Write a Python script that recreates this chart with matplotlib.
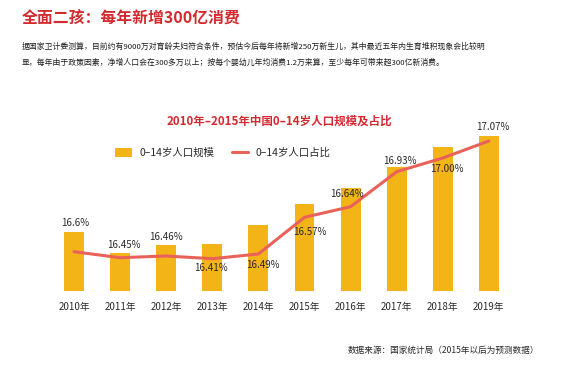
import numpy as np
import matplotlib.pyplot as plt

plt.rcParams['font.family'] = ['Noto Sans CJK SC', 'DejaVu Sans']

years = ['2010年', '2011年', '2012年', '2013年', '2014年',
         '2015年', '2016年', '2017年', '2018年', '2019年']
# bar heights and line levels (no scale given in the chart)
scale = [59, 38, 46, 47, 66, 87, 103, 124, 144, 155]
share_level = [39.3, 33.3, 35, 32.3, 37, 73.7, 84.3, 119.3, 133, 150]
share_labels = ['16.6%', '16.45%', '16.46%', '16.41%', '16.49%',
                '16.57%', '16.64%', '16.93%', '17.00%', '17.07%']

# label placement relative to the line point (pixels)
lab_dy = [28.7, 13, 19.4, -9, -11, -14.7, 12.7, 10.7, -11, 14]
lab_dx = [1, 4, 0, -1, 4.6, 5.5, -3.6, 3.3, 4.2, 4]

W, H = 586, 368
fig = plt.figure(figsize=(W / 100, H / 100), dpi=100)

red = '#D42A2F'
bar_c = '#F2B416'
line_c = '#E9625A'
txt = '#2a2a2a'

fig.text(22 / W, 1 - 18 / H, '全面二孩：每年新增300亿消费', color=red,
         fontsize=11.4, fontweight='bold', va='center', ha='left')
fig.text(22 / W, 1 - 47 / H,
         '据国家卫计委测算，目前约有9000万对育龄夫妇符合条件，预估今后每年将新增250万新生儿，其中最近五年内生育堆积现象会比较明',
         color='#1e1e1e', fontsize=5.65, va='center', ha='left')
fig.text(22 / W, 1 - 63 / H,
         '显，每年由于政策因素，净增人口会在300多万以上；按每个婴幼儿年均消费1.2万来算，至少每年可带来超300亿新消费。',
         color='#1e1e1e', fontsize=5.65, va='center', ha='left')

fig.text(279 / W, 1 - 121 / H, '2010年–2015年中国0–14岁人口规模及占比',
         color=red, fontsize=8.3, fontweight='bold', va='center', ha='center')

fig.text(443 / W, 1 - 350 / H, '数据来源：国家统计局（2015年以后为预测数据）',
         color=txt, fontsize=6.2, va='center', ha='center')

# axes spanning full width; baseline at y=291px, top at y=100px
ax = fig.add_axes([0, 1 - 291 / H, 1, 191 / H])
x = np.arange(len(years))
step = 46.1
ax.set_xlim(-74 / step, (W - 74) / step)
ax.set_ylim(0, 191)

bars = ax.bar(x, scale, width=0.43, color=bar_c, label='0–14岁人口规模', zorder=2)
ln, = ax.plot(x, share_level, color=line_c, lw=2.2, label='0–14岁人口占比',
              solid_capstyle='round', zorder=3)

for i in range(len(x)):
    ax.annotate(share_labels[i], (x[i], share_level[i]),
                xytext=(lab_dx[i] * 0.72, lab_dy[i] * 0.72), textcoords='offset points',
                ha='center', va='center', fontsize=7, color=txt, zorder=4)

ax.set_xticks(x)
ax.set_xticklabels(years, fontsize=7, color=txt)
ax.tick_params(axis='x', length=0, pad=8)
ax.set_yticks([])
for s in ax.spines.values():
    s.set_visible(False)
ax.patch.set_alpha(0)

fig.legend(handles=[bars, ln], loc='center left',
           bbox_to_anchor=(110 / W, 1 - 153 / H), ncol=2, frameon=False,
           fontsize=7.5, handlelength=1.6, handleheight=1.0,
           handletextpad=0.7, columnspacing=1.7, borderpad=0, labelcolor=txt)

fig.savefig('out.png', dpi=100, facecolor='white')
